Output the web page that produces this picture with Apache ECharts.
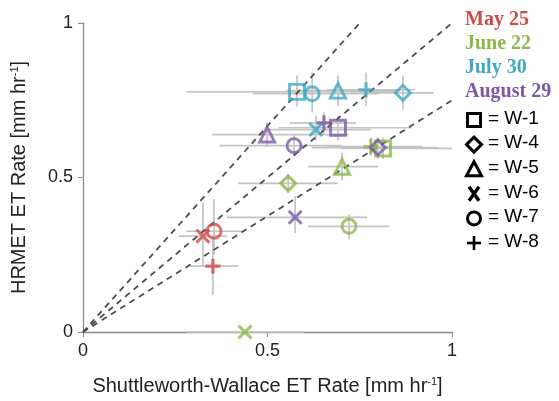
<!DOCTYPE html>
<html>
<head>
<meta charset="utf-8">
<script src="https://cdn.jsdelivr.net/npm/echarts@6/dist/echarts.min.js"></script>
<style>
  html, body { margin: 0; padding: 0; background: #fff; }
  #chart { width: 559px; height: 401px; }
</style>
</head>
<body>
<div id="chart"></div>
<script>
// one row per well: site, SW rate, HRMET rate, x low, x high, y low, y high
const may25 = [
  ["W-6", 0.325, 0.31, 0.26, 0.39, 0.21, 0.42],
  ["W-7", 0.355, 0.326, 0.28, 0.43, 0.25, 0.43],
  ["W-8", 0.352, 0.213, 0.29, 0.42, 0.12, 0.3],
];
const june22 = [
  ["W-1", 0.813, 0.594, 0.7, 1.0, 0.56, 0.63],
  ["W-4", 0.556, 0.481, 0.42, 0.69, 0.45, 0.51],
  ["W-5", 0.702, 0.535, 0.61, 0.8, 0.49, 0.58],
  ["W-6", 0.439, 0.0, 0.28, 0.6, 0.0, 0.0],
  ["W-7", 0.721, 0.342, 0.61, 0.83, 0.3, 0.38],
  ["W-8", 0.78, 0.6, 0.66, 0.92, 0.57, 0.63],
];
const july30 = [
  ["W-1", 0.58, 0.777, 0.28, 0.85, 0.73, 0.83],
  ["W-4", 0.867, 0.774, 0.76, 0.95, 0.72, 0.83],
  ["W-5", 0.691, 0.781, 0.55, 0.86, 0.73, 0.83],
  ["W-6", 0.631, 0.655, 0.5, 0.78, 0.62, 0.7],
  ["W-7", 0.621, 0.771, 0.46, 0.8, 0.71, 0.84],
  ["W-8", 0.767, 0.784, 0.66, 0.9, 0.73, 0.84],
];
const aug29 = [
  ["W-1", 0.691, 0.661, 0.53, 0.89, 0.62, 0.7],
  ["W-4", 0.799, 0.597, 0.62, 0.96, 0.56, 0.63],
  ["W-5", 0.499, 0.639, 0.35, 0.72, 0.6, 0.68],
  ["W-6", 0.575, 0.371, 0.39, 0.77, 0.32, 0.44],
  ["W-7", 0.572, 0.603, 0.37, 0.7, 0.57, 0.64],
  ["W-8", 0.653, 0.677, 0.56, 0.74, 0.64, 0.71],
];

const dates = ["May 25", "June 22", "July 30", "August 29"];
const dateColors = ["#cf4b48", "#8cb94a", "#3ea8c6", "#7a5aa5"];
const sites = ["W-1", "W-4", "W-5", "W-6", "W-7", "W-8"];
const ratioLines = [4 / 3, 1, 0.75]; // dashed reference lines y = k x
const ticks = [0, 0.5, 1];

const xPath = "path://M0,2.3 L2.3,0 L8,5.7 L13.7,0 L16,2.3 L10.3,8 L16,13.7 L13.7,16 L8,10.3 L2.3,16 L0,13.7 L5.7,8 Z";
const plusPath = "path://M6.3,0 H9.7 V6.3 H16 V9.7 H9.7 V16 H6.3 V9.7 H0 V6.3 H6.3 Z";
const siteSymbol = {
  "W-1": "rect",
  "W-4": "diamond",
  "W-5": "triangle",
  "W-6": xPath,
  "W-7": "circle",
  "W-8": plusPath,
};

const groups = [may25, june22, july30, aug29];
const font = "Liberation Sans, Arial, sans-serif";

function markerItem(row, color) {
  const filled = row[0] === "W-6" || row[0] === "W-8";
  return {
    value: [row[1], row[2]],
    symbol: siteSymbol[row[0]],
    symbolSize: row[0] === "W-7" ? 14 : 15,
    itemStyle: filled
      ? { color: color, borderWidth: 0 }
      : { color: "rgba(255,255,255,0)", borderColor: color, borderWidth: 2.9 },
  };
}

const errorData = [];
groups.forEach((g) => g.forEach((r) => errorData.push([r[1], r[2], r[3], r[4], r[5], r[6]])));

const chart = echarts.init(document.getElementById("chart"));

const series = [
  {
    type: "custom",
    z: 1,
    clip: false,
    silent: true,
    data: errorData,
    encode: { x: 0, y: 1 },
    renderItem: (params, api) => {
      const l = api.coord([api.value(2), api.value(1)]);
      const r = api.coord([api.value(3), api.value(1)]);
      const b = api.coord([api.value(0), api.value(4)]);
      const t = api.coord([api.value(0), api.value(5)]);
      const st = { stroke: "#c4c4c4", lineWidth: 1.7 };
      return {
        type: "group",
        children: [
          { type: "line", shape: { x1: l[0], y1: l[1], x2: r[0], y2: r[1] }, style: st },
          { type: "line", shape: { x1: t[0], y1: t[1], x2: b[0], y2: b[1] }, style: st },
        ],
      };
    },
  },
];

ratioLines.forEach((k) => {
  series.push({
    type: "line",
    z: 2,
    silent: true,
    symbol: "none",
    data: [[0, 0], [Math.min(1, 1 / k), Math.min(1, k)]],
    lineStyle: { color: "#4d4d4d", width: 1.8, type: [6, 5] },
  });
});

groups.forEach((g, i) => {
  series.push({
    name: dates[i],
    type: "scatter",
    z: 3,
    data: g.map((r) => markerItem(r, dateColors[i])),
  });
});

// legend drawn as graphics: coloured dates, then black symbol keys
const graphic = [];
dates.forEach((d, i) => {
  graphic.push({
    type: "text",
    left: 465,
    top: 10 + i * 24,
    style: {
      text: d,
      fill: dateColors[i],
      font: "bold 20px 'Liberation Serif', 'Times New Roman', serif",
    },
  });
});
const keyX = 474;
const keyY0 = 120;
const keyStep = 24.6;
const ks = { fill: "none", stroke: "#000", lineWidth: 3 };
sites.forEach((s, i) => {
  const cy = keyY0 + i * keyStep;
  let shape;
  if (s === "W-1") {
    shape = { type: "rect", shape: { x: keyX - 6.5, y: cy - 6.5, width: 13, height: 13 }, style: ks };
  } else if (s === "W-4") {
    shape = { type: "polygon", shape: { points: [[keyX, cy - 7.5], [keyX + 7.5, cy], [keyX, cy + 7.5], [keyX - 7.5, cy]] }, style: ks };
  } else if (s === "W-5") {
    shape = { type: "polygon", shape: { points: [[keyX, cy - 7.5], [keyX + 7.5, cy + 6.5], [keyX - 7.5, cy + 6.5]] }, style: ks };
  } else if (s === "W-6") {
    shape = {
      type: "group",
      children: [
        { type: "line", shape: { x1: keyX - 5, y1: cy - 7, x2: keyX + 5, y2: cy + 7 }, style: { stroke: "#000", lineWidth: 3.4 } },
        { type: "line", shape: { x1: keyX + 5, y1: cy - 7, x2: keyX - 5, y2: cy + 7 }, style: { stroke: "#000", lineWidth: 3.4 } },
      ],
    };
  } else if (s === "W-7") {
    shape = { type: "circle", shape: { cx: keyX, cy: cy, r: 6.5 }, style: ks };
  } else {
    shape = {
      type: "group",
      children: [
        { type: "line", shape: { x1: keyX - 7, y1: cy, x2: keyX + 7, y2: cy }, style: { stroke: "#000", lineWidth: 2.6 } },
        { type: "line", shape: { x1: keyX, y1: cy - 7, x2: keyX, y2: cy + 7 }, style: { stroke: "#000", lineWidth: 2.6 } },
      ],
    };
  }
  graphic.push(shape);
  graphic.push({
    type: "text",
    left: 488,
    top: cy - 11,
    style: { text: "= " + s, fill: "#000", font: "19px " + font },
  });
});

const nameRich = {
  sup: { fontSize: 11, fontFamily: font, color: "#222", padding: [0, 0, 9, 0] },
};

chart.setOption({
  animation: false,
  backgroundColor: "#fff",
  grid: { left: 83, right: 107, top: 23, bottom: 68 },
  xAxis: {
    type: "value",
    min: ticks[0],
    max: ticks[2],
    interval: 0.5,
    splitLine: { show: false },
    axisLine: { lineStyle: { color: "#8a8a8a", width: 1.3 } },
    axisTick: { length: 5, lineStyle: { color: "#8a8a8a" } },
    axisLabel: { fontSize: 18, color: "#222", fontFamily: font, margin: 10 },
    name: "Shuttleworth-Wallace ET Rate [mm hr{sup|-1}]",
    nameLocation: "middle",
    nameGap: 44,
    nameTextStyle: { fontSize: 20, color: "#222", fontFamily: font, rich: nameRich },
  },
  yAxis: {
    type: "value",
    min: ticks[0],
    max: ticks[2],
    interval: 0.5,
    splitLine: { show: false },
    axisLine: { lineStyle: { color: "#8a8a8a", width: 1.3 } },
    axisTick: { length: 5, lineStyle: { color: "#8a8a8a" } },
    axisLabel: { fontSize: 18, color: "#222", fontFamily: font, margin: 10 },
    name: "HRMET ET Rate [mm hr{sup|-1}]",
    nameLocation: "middle",
    nameGap: 54,
    nameTextStyle: { fontSize: 20, color: "#222", fontFamily: font, rich: nameRich },
  },
  graphic: graphic,
  series: series,
});
</script>
</body>
</html>
